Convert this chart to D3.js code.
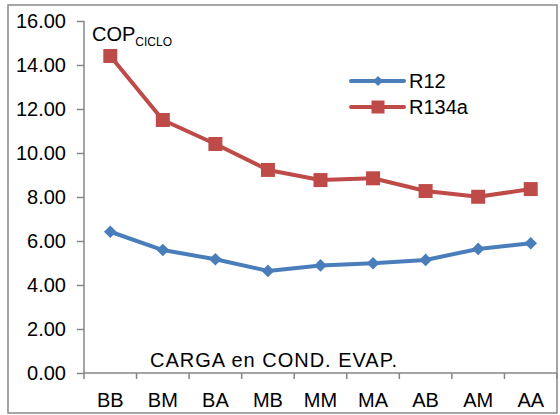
<!DOCTYPE html>
<html>
<head>
<meta charset="utf-8">
<script src="https://cdn.jsdelivr.net/npm/d3@7"></script>
<style>
  body { margin: 0; background: #fff; }
  svg text { font-family: "Liberation Sans", Arial, sans-serif; fill: #000; }
</style>
</head>
<body>
<div id="app"></div>
<script>
`use strict`;

const categories = [`BB`, `BM`, `BA`, `MB`, `MM`, `MA`, `AB`, `AM`, `AA`];
const r12 = [6.42, 5.59, 5.17, 4.64, 4.89, 4.99, 5.14, 5.64, 5.90];
const r134a = [14.41, 11.50, 10.41, 9.23, 8.77, 8.85, 8.27, 8.01, 8.36];
const yTicks = [0, 2, 4, 6, 8, 10, 12, 14, 16];

const W = 560, H = 415;
const M = {left: 84, right: 557, top: 21, bottom: 373};

let SVG = d3.select(`#app`).append(`svg`).attr(`width`, W).attr(`height`, H);

// outer frame
SVG.append(`rect`).attr(`x`, 8).attr(`y`, 5).attr(`width`, 549).attr(`height`, 408)
  .attr(`fill`, `#fff`).attr(`stroke`, `#898989`).attr(`stroke-width`, 1.5);

let x = d3.scaleBand().domain(categories).range([M.left, M.right]);
let y = d3.scaleLinear().domain([0, 16]).range([M.bottom, M.top]);

// y axis
let yAxis = SVG.append(`g`).attr(`transform`, `translate(${M.left},0)`)
  .call(d3.axisLeft(y).tickValues(yTicks).tickFormat(d3.format(`.2f`)).tickSize(7).tickPadding(11));

// x axis, ticks on band edges
let xAxis = SVG.append(`g`).attr(`transform`, `translate(0,${M.bottom})`)
  .call(d3.axisBottom(x).tickSize(0).tickPadding(20));

xAxis.selectAll(`.edge`).data(d3.range(categories.length + 1)).enter().append(`line`)
  .attr(`class`, `edge`)
  .attr(`x1`, i => M.left + i * x.step()).attr(`x2`, i => M.left + i * x.step())
  .attr(`y1`, 0).attr(`y2`, 6);

[yAxis, xAxis].forEach(G => {
  G.select(`.domain`).attr(`stroke`, `#868686`).attr(`stroke-width`, 1.5);
  G.selectAll(`line`).attr(`stroke`, `#868686`).attr(`stroke-width`, 1.5);
  G.selectAll(`text`).attr(`font-size`, `20px`).attr(`font-family`, `"Liberation Sans", Arial, sans-serif`).attr(`fill`, `#000`);
});
xAxis.select(`.domain`).attr(`d`, `M${M.left},0H${M.right}`);
yAxis.select(`.domain`).attr(`d`, `M0,${M.top}V${M.bottom}`);

// series (diamond = square turned 45deg)
const Series = [
  {name: `R12`, values: r12, color: `#4a7ebb`, size: 80, legSize: 52, rot: 45},
  {name: `R134a`, values: r134a, color: `#be4b48`, size: 196, legSize: 169, rot: 0}
];

let line = d3.line().x((d, i) => x(categories[i]) + x.bandwidth() / 2).y(d => y(d));

Series.forEach(S => {
  SVG.append(`path`).datum(S.values).attr(`d`, line)
    .attr(`fill`, `none`).attr(`stroke`, S.color).attr(`stroke-width`, 4).attr(`stroke-linejoin`, `round`);

  SVG.selectAll(`.m-${S.name}`).data(S.values).enter().append(`path`)
    .attr(`class`, `m-${S.name}`)
    .attr(`d`, d3.symbol().type(d3.symbolSquare).size(S.size))
    .attr(`transform`, (d, i) => `translate(${x(categories[i]) + x.bandwidth() / 2},${y(d)}) rotate(${S.rot})`)
    .attr(`fill`, S.color);
});

// legend
Series.forEach((S, i) => {
  let ly = 81 + i * 26;
  let g = SVG.append(`g`);
  g.append(`line`).attr(`x1`, 351).attr(`x2`, 404).attr(`y1`, ly).attr(`y2`, ly)
    .attr(`stroke`, S.color).attr(`stroke-width`, 4).attr(`stroke-linecap`, `round`);
  g.append(`path`).attr(`d`, d3.symbol().type(d3.symbolSquare).size(S.legSize))
    .attr(`transform`, `translate(378,${ly}) rotate(${S.rot})`).attr(`fill`, S.color);
  g.append(`text`).attr(`x`, 409).attr(`y`, ly + 7).attr(`font-size`, `20px`).text(S.name);
});

// labels
let cop = SVG.append(`text`).attr(`x`, 92).attr(`y`, 41).attr(`font-size`, `20px`);
cop.append(`tspan`).text(`COP`);
cop.append(`tspan`).attr(`font-size`, `12px`).attr(`dy`, 5).text(`CICLO`);

SVG.append(`text`).attr(`x`, 150).attr(`y`, 367).attr(`font-size`, `20px`).attr(`textLength`, 247)
  .text(`CARGA en COND. EVAP.`);
</script>
</body>
</html>
